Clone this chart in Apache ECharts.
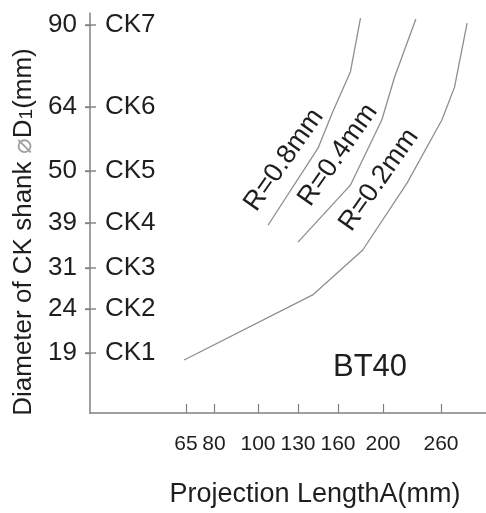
<!DOCTYPE html>
<html>
<head>
<meta charset="UTF-8">
<title>BT40 projection length</title>
<script type="text/javascript" src="https://cdn.jsdelivr.net/npm/echarts@6/dist/echarts.min.js"></script>
<style type="text/css">
html, body {
	margin: 0;
	padding: 0;
	background: #fff;
}
#chart {
	width: 486px;
	height: 513px;
}
</style>
</head>
<body>
<div id="chart"></div>
<script>
// axis ticks (real units)
var xTicks = [65, 80, 100, 130, 160, 200, 260];
var yTicks = [19, 24, 31, 39, 50, 64, 90];
var ckLabels = ['CK1', 'CK2', 'CK3', 'CK4', 'CK5', 'CK6', 'CK7'];

// curves: projection length A (mm) vs shank diameter D1 (mm)
var r08Length = [107.5, 145, 156, 171, 180];
var r08Dia = [38.6, 55.0, 62.9, 75.1, 92.2];
var r04Length = [130, 171, 199, 212, 234];
var r04Dia = [35.6, 47.0, 61.2, 73.5, 91.9];
var r02Length = [64, 141, 182, 225, 261, 274, 287];
var r02Dia = [18.2, 26.4, 34.2, 47.5, 61.2, 70.3, 90.6];
var curveNames = ['R=0.8mm', 'R=0.4mm', 'R=0.2mm'];

// the drawing's scales are not linear: where each tick sits along its axis
var xTickPos = [96, 124, 168, 208, 248, 293, 351];   // axis runs 0..396
var yTickPos = [60, 104, 145, 190, 242, 306, 388];   // axis runs 0..400

// piecewise linear mapping between ticks (extends the end segments)
function toAxis(v, vals, pos) {
	var i = 0;
	while (i < vals.length - 2 && v > vals[i + 1]) i++;
	return pos[i] + (v - vals[i]) * (pos[i + 1] - pos[i]) / (vals[i + 1] - vals[i]);
}

function curve(lens, dias) {
	var out = [];
	for (var i = 0; i < lens.length; i++) {
		out.push([toAxis(lens[i], xTicks, xTickPos), toAxis(dias[i], yTicks, yTickPos)]);
	}
	return out;
}

var axisGrey = '#808080';
var txt = '#1e1e1e';
var font = '"Liberation Sans", Arial, sans-serif';

var chart = echarts.init(document.getElementById('chart'));

function lineSeries(name, data) {
	return {
		name: name,
		type: 'line',
		data: data,
		symbol: 'none',
		silent: true,
		lineStyle: {color: '#8e8e8e', width: 1.3}
	};
}

function rLabel(text, x, y) {
	return {
		type: 'text',
		x: x,
		y: y,
		rotation: 55 * Math.PI / 180,
		style: {
			text: text,
			font: '27px ' + font,
			fill: txt,
			align: 'center',
			verticalAlign: 'middle'
		}
	};
}

var labels = [
	rLabel(curveNames[0], 284, 160),
	rLabel(curveNames[1], 338, 155),
	rLabel(curveNames[2], 379, 180),
	{
		type: 'text',
		x: 370,
		y: 367,
		style: {
			text: 'BT40',
			font: '31px ' + font,
			fill: txt,
			align: 'center',
			verticalAlign: 'middle'
		}
	}
];

var option = {
	animation: false,
	backgroundColor: '#fff',
	grid: {left: 90, top: 13, right: 0, bottom: 100, containLabel: false},
	xAxis: {
		type: 'value',
		min: 0,
		max: 396,
		name: 'Projection LengthA(mm)',
		nameLocation: 'middle',
		nameGap: 68,
		nameTextStyle: {fontSize: 27, fontFamily: font, color: txt, padding: [0, 0, 0, 54]},
		splitLine: {show: false},
		axisLine: {show: true, lineStyle: {color: axisGrey, width: 1.5}},
		axisTick: {show: true, inside: true, length: 9, customValues: xTickPos,
			lineStyle: {color: axisGrey, width: 1.2}},
		axisLabel: {
			customValues: xTickPos,
			margin: 21,
			fontSize: 21,
			fontFamily: '"Liberation Sans Narrow", "Liberation Sans", sans-serif',
			color: txt,
			formatter: function (v) {
				var i = xTickPos.indexOf(v);
				return i < 0 ? '' : String(xTicks[i]);
			}
		}
	},
	yAxis: [{
		type: 'value',
		min: 0,
		max: 400,
		position: 'left',
		name: '{a|Diameter of CK shank }{g|⌀}{a|D}{s|1}{a|(mm)}',
		nameLocation: 'middle',
		nameRotate: 90,
		nameGap: 52,
		nameTextStyle: {
			padding: [0, 38, 0, 0],
			rich: {
				a: {fontSize: 26, fontFamily: font, color: txt},
				g: {fontSize: 26, fontFamily: font, color: '#a0a0a0'},
				s: {fontSize: 19, fontFamily: font, color: txt, padding: [6, 0, 0, 0]}
			}
		},
		splitLine: {show: false},
		axisLine: {show: true, lineStyle: {color: axisGrey, width: 1.5}},
		axisTick: {show: true, length: 5, customValues: yTickPos,
			lineStyle: {color: axisGrey, width: 1.3}},
		axisLabel: {
			customValues: yTickPos,
			margin: 13,
			padding: [5, 0, 0, 0],
			fontSize: 26,
			fontFamily: font,
			color: txt,
			formatter: function (v) {
				var i = yTickPos.indexOf(v);
				return i < 0 ? '' : String(yTicks[i]);
			}
		}
	}, {
		type: 'value',
		min: 0,
		max: 400,
		position: 'left',
		offset: 0,
		splitLine: {show: false},
		axisLine: {show: false},
		axisTick: {show: false},
		axisLabel: {
			inside: true,
			customValues: yTickPos,
			margin: 15,
			padding: [5, 0, 0, 0],
			fontSize: 26,
			fontFamily: font,
			color: txt,
			formatter: function (v) {
				var i = yTickPos.indexOf(v);
				return i < 0 ? '' : ckLabels[i];
			}
		}
	}],
	series: [
		lineSeries(curveNames[0], curve(r08Length, r08Dia)),
		lineSeries(curveNames[1], curve(r04Length, r04Dia)),
		lineSeries(curveNames[2], curve(r02Length, r02Dia))
	],
	graphic: labels
};

chart.setOption(option);

// y tick marks crossing the axis, placed through the axis scale
var tickMarks = yTickPos.map(function (v) {
	var p = chart.convertToPixel({gridIndex: 0}, [0, v]);
	return {
		type: 'line',
		z: 10,
		shape: {x1: p[0] - 5, y1: p[1], x2: p[0] + 6, y2: p[1]},
		style: {stroke: axisGrey, lineWidth: 1.4}
	};
});
chart.setOption({graphic: labels.concat(tickMarks)});
</script>
</body>
</html>
